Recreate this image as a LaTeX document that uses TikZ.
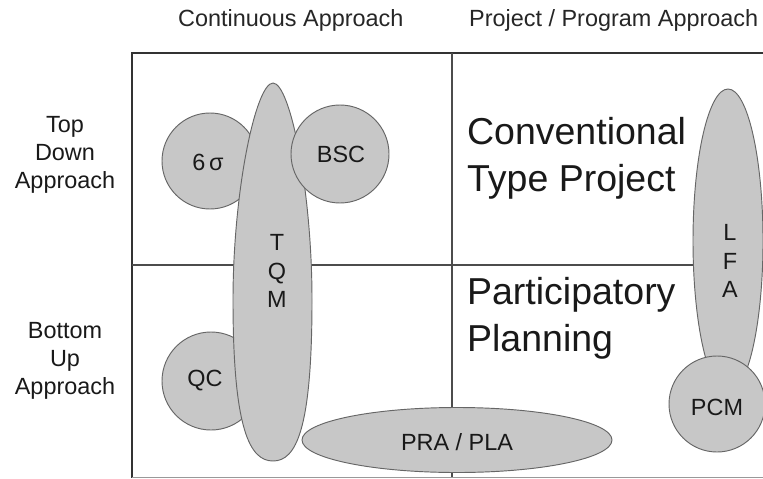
\documentclass[tikz,border=0pt]{standalone}
\usepackage{fontspec}
\setmainfont{Liberation Sans}
\usetikzlibrary{shapes.geometric}

\tikzset{
  blob/.style={draw=black!60, line width=0.8pt, fill=black!22, inner sep=0pt},
  lbl/.style={font=\fontsize{20}{24}\selectfont, text=black!90, align=center},
  head/.style={font=\fontsize{20}{24}\selectfont, text=black!85, anchor=west},
  big/.style={font=\fontsize{32}{40}\selectfont, text=black!90, align=left, anchor=west},
}

\begin{document}
\begin{tikzpicture}[x=0.03cm,y=-0.03cm]
  \useasboundingbox (0,0) rectangle (763,478);

  %%%%% headings %%%%%
  \node[head] (cont) at (174,20) {Continuous Approach};
  \node[head] (proj) at (465,20) {Project / Program Approach};
  \node[lbl] (topdown) at (65,155) {Top\\Down\\Approach};
  \node[lbl] (bottomup) at (65,361) {Bottom\\Up\\Approach};

  %%%%% grid %%%%%
  \draw[line width=2pt, color=black!80] (763,53) -- (132,53) -- (132,478);
  \draw[line width=1.4pt, color=black!70] (452,53) -- (452,477);
  \draw[line width=1.4pt, color=black!70] (132,265) -- (763,265);
  \draw[line width=0.8pt, color=black!40] (132,477) -- (763,477);

  \node[big] (conv) at (463,158) {Conventional\\Type Project};
  \node[big] (part) at (463,318) {Participatory\\Planning};

  %%%%% continuous side %%%%%
  \node[blob, circle, minimum size=2.88cm] (sigma) at (210,161) {};
  \node[blob, circle, minimum size=2.94cm] (qc) at (211,381) {};
  % egg shaped TQM, pointed at the top
  \draw[blob] (273,83) .. controls (290,83) and (312,190) .. (312,300)
    .. controls (312,430) and (296,461) .. (273,461)
    .. controls (250,461) and (233,430) .. (233,300)
    .. controls (233,190) and (256,83) .. cycle;
  \node[blob, circle, minimum size=2.94cm] (bsc) at (340,154) {};
  \node[blob, ellipse, minimum width=9.3cm, minimum height=1.95cm] (pra) at (457,440) {};

  \node[lbl] (sigmatxt) at (208,162) {6\,σ};
  \node[lbl] (qctxt) at (205,381) {QC};
  \node[lbl] (tqmtxt) at (277,271) {T\\Q\\M};
  \node[lbl] (bsctxt) at (341,154) {BSC};
  \node[lbl] (pratxt) at (457,442) {PRA / PLA};

  %%%%% project side %%%%%
  \node[blob, ellipse, minimum width=2.1cm, minimum height=9.12cm] (lfa) at (728,241) {};
  \node[blob, circle, minimum size=2.88cm] (pcm) at (717,404) {};

  \node[lbl] (lfatxt) at (730,261) {L\\F\\A};
  \node[lbl] (pcmtxt) at (717,407) {PCM};
\end{tikzpicture}
\end{document}
